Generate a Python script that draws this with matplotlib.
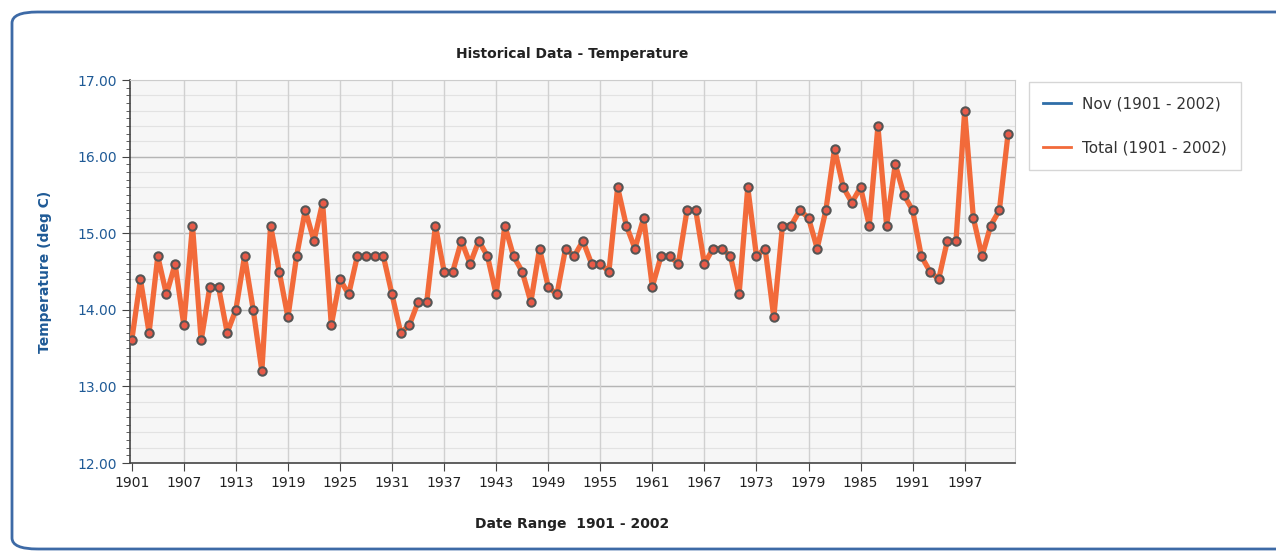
import numpy as np
import matplotlib.pyplot as plt
from matplotlib.patches import FancyBboxPatch
from matplotlib.lines import Line2D
from matplotlib.ticker import MultipleLocator

years = list(range(1901, 2003))
total = [13.6, 14.4, 13.7, 14.7, 14.2, 14.6, 13.8, 15.1, 13.6, 14.3,
         14.3, 13.7, 14.0, 14.7, 14.0, 13.2, 15.1, 14.5, 13.9, 14.7,
         15.3, 14.9, 15.4, 13.8, 14.4, 14.2, 14.7, 14.7, 14.7, 14.7,
         14.2, 13.7, 13.8, 14.1, 14.1, 15.1, 14.5, 14.5, 14.9, 14.6,
         14.9, 14.7, 14.2, 15.1, 14.7, 14.5, 14.1, 14.8, 14.3, 14.2,
         14.8, 14.7, 14.9, 14.6, 14.6, 14.5, 15.6, 15.1, 14.8, 15.2,
         14.3, 14.7, 14.7, 14.6, 15.3, 15.3, 14.6, 14.8, 14.8, 14.7,
         14.2, 15.6, 14.7, 14.8, 13.9, 15.1, 15.1, 15.3, 15.2, 14.8,
         15.3, 16.1, 15.6, 15.4, 15.6, 15.1, 16.4, 15.1, 15.9, 15.5,
         15.3, 14.7, 14.5, 14.4, 14.9, 14.9, 16.6, 15.2, 14.7, 15.1,
         15.3, 16.3]
series_names = ['Nov (1901 - 2002)', 'Total (1901 - 2002)']
xticks = list(range(1901, 2002, 6))
yticks = [12, 13, 14, 15, 16, 17]

fig = plt.figure(figsize=(12.76, 5.53), dpi=100)
fig.patch.set_facecolor('white')

# rounded panel border
panel = FancyBboxPatch((12 / 1276, 4 / 553), 1290 / 1276, 537 / 553,
                       boxstyle='round,pad=0,rounding_size=0.02',
                       transform=fig.transFigure, facecolor='none',
                       edgecolor='#3d6aa6', linewidth=2.0, zorder=-1)
fig.patches.append(panel)

ax = fig.add_axes([130 / 1276, 1 - 463 / 553, 885 / 1276, 383 / 553])
ax.set_facecolor('#f6f6f6')

ax.plot(years, total, color='#f26a3a', lw=3.8, marker='o', markersize=6,
        markerfacecolor='#e85a48', markeredgecolor='#555555',
        markeredgewidth=1.5, zorder=3)

ax.set_xlim(1900.8, 2002.8)
ax.set_ylim(12, 17)
ax.set_xticks(xticks)
ax.set_yticks(yticks)
ax.set_yticklabels(['%.2f' % v for v in yticks])
ax.yaxis.set_minor_locator(MultipleLocator(0.1))

for v in np.arange(12.2, 17, 0.2):
    ax.axhline(v, color='#e2e2e2', lw=0.8, zorder=1)
for v in yticks[1:-1]:
    ax.axhline(v, color='#b5b5b5', lw=1.0, zorder=1)
for v in xticks[1:]:
    ax.axvline(v, color='#d0d0d0', lw=1.0, zorder=1)

for s in ['top', 'right']:
    ax.spines[s].set_color('#cccccc')
for s in ['left', 'bottom']:
    ax.spines[s].set_color('#444444')
    ax.spines[s].set_linewidth(1.2)

ax.tick_params(axis='y', colors='#444444', labelcolor='#1f5a96',
               labelsize=10, length=6)
ax.tick_params(axis='y', which='minor', length=3, colors='#444444')
ax.tick_params(axis='x', colors='#444444', labelcolor='#222222',
               labelsize=10, length=6)

ax.set_title('Historical Data - Temperature', fontsize=10, fontweight='bold',
             color='#222222', pad=16)
ax.set_ylabel('Temperature (deg C)', fontsize=10, fontweight='bold',
              color='#1f5a96', labelpad=18)
ax.set_xlabel('Date Range  1901 - 2002', fontsize=10, fontweight='bold',
              color='#222222', labelpad=19)

handles = [Line2D([], [], color='#2f6ea8', lw=2),
           Line2D([], [], color='#f26a3a', lw=2)]
leg = ax.legend(handles, series_names, loc='upper left',
                bbox_to_anchor=(1.0158, 0.995), borderaxespad=0,
                frameon=True, prop={'size': 11},
                labelspacing=1.9, handlelength=1.8, handletextpad=0.7,
                borderpad=0.95, fancybox=False)
leg.get_frame().set_edgecolor('#cccccc')
leg.get_frame().set_linewidth(1.0)
for t in leg.get_texts():
    t.set_color('#333333')

fig.savefig('out.png', dpi=100)
